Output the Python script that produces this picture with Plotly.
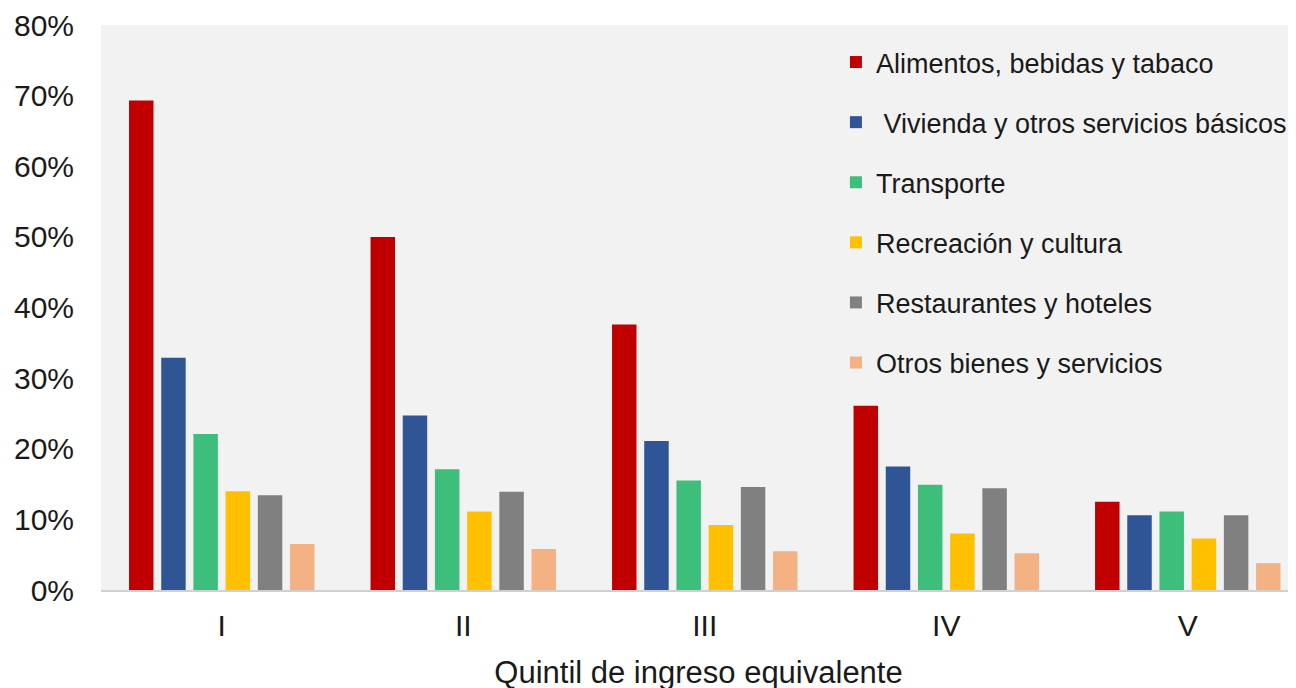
import plotly.graph_objects as go

quintiles = ["I", "II", "III", "IV", "V"]

categories = [
    "Alimentos, bebidas y tabaco",
    " Vivienda y otros servicios básicos",
    "Transporte",
    "Recreación y cultura",
    "Restaurantes y hoteles",
    "Otros bienes y servicios",
]

alimentos = [0.693, 0.500, 0.376, 0.261, 0.125]
vivienda = [0.329, 0.247, 0.211, 0.175, 0.106]
transporte = [0.221, 0.171, 0.155, 0.149, 0.111]
recreacion = [0.140, 0.111, 0.092, 0.080, 0.073]
restaurantes = [0.134, 0.139, 0.146, 0.144, 0.106]
otros = [0.065, 0.058, 0.055, 0.052, 0.038]

series = [alimentos, vivienda, transporte, recreacion, restaurantes, otros]
colors = ["#C00000", "#2F5597", "#3DBE7A", "#FFC000", "#808080", "#F4B183"]

fig = go.Figure()
for i, (name, vals, col) in enumerate(zip(categories, series, colors)):
    fig.add_trace(
        go.Bar(
            x=quintiles,
            y=vals,
            name=name,
            marker=dict(color=col, line=dict(width=0)),
            legendgroup=f"g{i}",
        )
    )

# page body adds an 8px offset, so margins are shifted to compensate
fig.update_layout(
    width=1296,
    height=688,
    barmode="group",
    bargap=0.2,
    bargroupgap=0.24,
    paper_bgcolor="white",
    plot_bgcolor="#F2F2F2",
    font=dict(family="Liberation Sans, Arial, sans-serif", color="#1a1a1a"),
    margin=dict(l=93, r=8, t=17, b=106),
    legend=dict(
        x=0.615,
        y=0.977,
        xanchor="left",
        yanchor="top",
        bgcolor="rgba(0,0,0,0)",
        font=dict(size=27, color="#1a1a1a"),
        traceorder="grouped",
        tracegroupgap=22,
    ),
)
fig.update_xaxes(
    range=[-0.5, 4.448],
    automargin=False,
    showgrid=False,
    showline=True,
    linecolor="#D0D0D0",
    linewidth=2,
    tickfont=dict(size=30),
    ticklabelstandoff=8,
    title=dict(text="Quintil de ingreso equivalente", font=dict(size=31), standoff=20),
)
fig.update_yaxes(
    range=[0, 0.8],
    dtick=0.1,
    tickformat=".0%",
    automargin=False,
    showgrid=False,
    zeroline=False,
    tickfont=dict(size=30),
    ticklabelstandoff=26,
)

fig.write_html("out.html")
